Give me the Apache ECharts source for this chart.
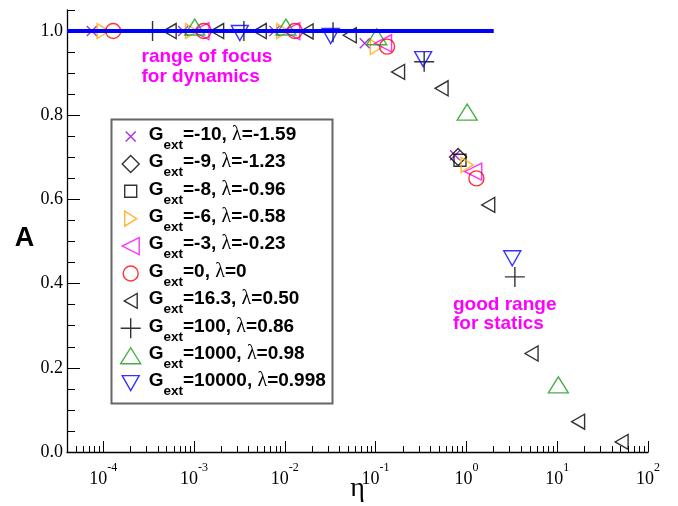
<!DOCTYPE html>
<html>
<head>
<meta charset="utf-8">
<script src="https://cdn.jsdelivr.net/npm/echarts@6/dist/echarts.min.js"></script>
<style>
  html, body { margin: 0; padding: 0; background: #fff; }
  #chart { width: 678px; height: 506px; }
</style>
</head>
<body>
<div id="chart"></div>
<script>
// ---- axis ticks ----
const decadeTicks = [1e-4, 1e-3, 1e-2, 1e-1, 1, 10, 100];
const yMajorTicks = [0, 0.2, 0.4, 0.6, 0.8, 1.0];
const yMinorTicks = [0.05, 0.1, 0.15, 0.25, 0.3, 0.35, 0.45, 0.5, 0.55, 0.65, 0.7, 0.75, 0.85, 0.9, 0.95, 1.05];
const etaMinorTicks = [];
for (let k = -5; k <= 1; k++) {
  for (let m = 2; m <= 9; m++) {
    const v = m * Math.pow(10, k);
    if (v > 4.01e-5 && v < 100) etaMinorTicks.push(v);
  }
}

// ---- data: A versus eta for each G_ext ----
const etaGm10 = [7.5e-5, 7.6e-4, 7.7e-3, 0.076, 0.75];
const aGm10   = [1.0, 1.0, 1.0, 0.971, 0.705];

const etaGm9 = [0.81];
const aGm9   = [0.701];

const etaGm8 = [0.85];
const aGm8   = [0.693];

const etaGm6 = [1.0e-4, 9.4e-4, 9.5e-3, 0.102, 1.02];
const aGm6   = [1.0, 1.0, 1.0, 0.962, 0.682];

const etaGm3 = [1.18e-3, 0.0118, 0.121, 1.19];
const aGm3   = [1.0, 1.0, 0.971, 0.666];

const etaG0 = [1.29e-4, 1.28e-3, 0.0129, 0.134, 1.29];
const aG0   = [1.0, 1.0, 1.0, 0.963, 0.650];

const etaG16 = [5.4e-4, 1.8e-3, 5.3e-3, 0.0174, 0.052, 0.177, 0.533, 1.74, 5.22, 17.0, 51.2];
const aG16   = [1.0, 1.0, 1.0, 0.999, 0.99, 0.903, 0.864, 0.587, 0.234, 0.072, 0.024];

const etaG100 = [3.5e-4, 3.55e-3, 0.034, 0.343, 3.42];
const aG100   = [1.0, 1.0, 0.997, 0.927, 0.416];

const etaG1000 = [1.02e-3, 0.0103, 0.103, 1.02, 10.3];
const aG1000   = [1.0, 1.0, 0.977, 0.798, 0.150];

const etaG10000 = [3.2e-3, 0.032, 0.334, 3.2];
const aG10000   = [1.0, 0.993, 0.938, 0.465];

// reference level A = 1
const lineEta = [4e-5, 2.0];
const lineA   = [1.0, 1.0];

// ---- marker outlines, each drawn inside a 20x20 frame ----
const FRAME = 'M0,0M20,20';
const SHAPES = {
  cross:    'path://' + FRAME + 'M5,5L15,15M15,5L5,15',
  diamond:  'path://' + FRAME + 'M10,1.5L18.5,10L10,18.5L1.5,10Z',
  square:   'path://' + FRAME + 'M4,4L16,4L16,16L4,16Z',
  triRight: 'path://' + FRAME + 'M4,2.5L16,10L4,17.5Z',
  triLeftL: 'path://' + FRAME + 'M18.5,1.5L18.5,18.5L1.5,10Z',
  circle:   'path://' + FRAME + 'M2.5,10A7.5,7.5,0,1,0,17.5,10A7.5,7.5,0,1,0,2.5,10Z',
  triLeft:  'path://' + FRAME + 'M16.5,2.5L16.5,17.5L3.5,10Z',
  plus:     'path://' + FRAME + 'M10,0L10,20M0,10L20,10',
  triUp:    'path://' + FRAME + 'M0,18L10,2L20,18Z',
  triDown:  'path://' + FRAME + 'M1.5,2.5L18.5,2.5L10,17.5Z'
};

const groups = [
  { name: 'Gext=-10, λ=-1.59',   eta: etaGm10,  a: aGm10,  color: '#9400d3', shape: SHAPES.cross },
  { name: 'Gext=-9, λ=-1.23',    eta: etaGm9,   a: aGm9,   color: '#000000', shape: SHAPES.diamond },
  { name: 'Gext=-8, λ=-0.96',    eta: etaGm8,   a: aGm8,   color: '#000000', shape: SHAPES.square },
  { name: 'Gext=-6, λ=-0.58',    eta: etaGm6,   a: aGm6,   color: '#ffa500', shape: SHAPES.triRight },
  { name: 'Gext=-3, λ=-0.23',    eta: etaGm3,   a: aGm3,   color: '#ff00ff', shape: SHAPES.triLeftL },
  { name: 'Gext=0, λ=0',         eta: etaG0,    a: aG0,    color: '#ff0000', shape: SHAPES.circle },
  { name: 'Gext=16.3, λ=0.50',   eta: etaG16,   a: aG16,   color: '#000000', shape: SHAPES.triLeft },
  { name: 'Gext=100, λ=0.86',    eta: etaG100,  a: aG100,  color: '#000000', shape: SHAPES.plus },
  { name: 'Gext=1000, λ=0.98',   eta: etaG1000, a: aG1000, color: '#1a9a1a', shape: SHAPES.triUp,   offset: [0, -4] },
  { name: 'Gext=10000, λ=0.998', eta: etaG10000,a: aG10000,color: '#0000ff', shape: SHAPES.triDown, offset: [0, 2] }
];

const series = groups.map(g => ({
  type: 'scatter',
  name: g.name,
  data: g.eta.map((x, i) => [x, g.a[i]]),
  symbol: g.shape,
  symbolSize: 20,
  symbolOffset: g.offset || [0, 0],
  itemStyle: { color: 'rgba(0,0,0,0)', borderColor: g.color, borderWidth: 1.4 },
  emphasis: { disabled: true },
  z: 3
}));
series.push({
  type: 'line',
  name: 'A=1',
  data: lineEta.map((x, i) => [x, lineA[i]]),
  symbol: 'none',
  lineStyle: { color: '#0000ff', width: 4 },
  z: 5,
  silent: true
});

const SANS = '"Liberation Sans", Arial, sans-serif';
const SERIF = '"Liberation Serif", "Times New Roman", serif';

const option = {
  animation: false,
  backgroundColor: '#fff',
  grid: { left: 67, top: 10, right: 30, bottom: 54, containLabel: false, outerBoundsMode: 'none' },
  xAxis: [{
    type: 'log', logBase: 10, min: 4e-5, max: 100, position: 'bottom',
    axisLine: { onZero: false, lineStyle: { color: '#000', width: 1.3 } },
    axisTick: { inside: true, length: 11, customValues: decadeTicks, lineStyle: { color: '#000', width: 1 } },
    axisLabel: {
      customValues: decadeTicks, margin: 10,
      formatter: v => '{b|10}{s|' + Math.round(Math.log10(v)) + '}',
      rich: {
        b: { fontFamily: SERIF, fontSize: 18, color: '#000', lineHeight: 26, verticalAlign: 'bottom' },
        s: { fontFamily: SERIF, fontSize: 12, color: '#000', lineHeight: 12, verticalAlign: 'top' }
      }
    },
    splitLine: { show: false }
  }, {
    type: 'log', logBase: 10, min: 4e-5, max: 100, position: 'bottom',
    axisLine: { show: false, onZero: false },
    axisTick: { inside: true, length: 6, customValues: etaMinorTicks, lineStyle: { color: '#000', width: 1 } },
    axisLabel: { show: false },
    splitLine: { show: false }
  }],
  yAxis: [{
    type: 'value', min: 0, max: 1.05, position: 'left',
    axisLine: { show: true, onZero: false, lineStyle: { color: '#000', width: 1.3 } },
    axisTick: { show: true, inside: true, length: 13, customValues: yMajorTicks, lineStyle: { color: '#000', width: 1 } },
    axisLabel: {
      customValues: yMajorTicks, margin: 4,
      formatter: v => v.toFixed(1),
      fontFamily: SERIF, fontSize: 18, color: '#000'
    },
    splitLine: { show: false }
  }, {
    type: 'value', min: 0, max: 1.05, position: 'left',
    axisLine: { show: false, onZero: false },
    axisTick: { show: true, inside: true, length: 8, customValues: yMinorTicks, lineStyle: { color: '#000', width: 1 } },
    axisLabel: { show: false },
    splitLine: { show: false }
  }],
  legend: {
    orient: 'vertical', left: 120, top: 121, padding: 0, itemGap: -3.6,
    itemWidth: 20, itemHeight: 20,
    selectedMode: false,
    data: groups.map(g => g.name),
    itemStyle: { borderWidth: 1.4 },
    formatter: n => {
      const rest = n.slice(4);
      const parts = rest.split('λ');
      return '{g|G}{e|ext}{t|' + parts[0] + '}{l|λ}{t|' + parts[1] + '}';
    },
    textStyle: {
      rich: {
        g: { fontFamily: SANS, fontWeight: 'bold', fontSize: 19, color: '#000', lineHeight: 22, padding: [0, 0, 4, 3] },
        e: { fontFamily: SANS, fontWeight: 'bold', fontSize: 13.5, color: '#000', lineHeight: 5, padding: [17, 0, 0, 0] },
        t: { fontFamily: SANS, fontWeight: 'bold', fontSize: 19, color: '#000', lineHeight: 22, padding: [0, 0, 4, 0] },
        l: { fontFamily: SERIF, fontSize: 20, color: '#000', lineHeight: 22, padding: [0, 0, 4, 0] }
      }
    }
  },
  graphic: [
    { type: 'rect', silent: true, z: 1,
      shape: { x: 111.5, y: 119.5, width: 221, height: 284 },
      style: { fill: '#fff', stroke: '#666', lineWidth: 2 } },
    { type: 'text', silent: true, x: 24.5, y: 239,
      style: { text: 'A', fill: '#000', fontFamily: SANS, fontWeight: 'bold', fontSize: 27, align: 'center', verticalAlign: 'middle' } },
    { type: 'text', silent: true, x: 357.5, y: 489,
      style: { text: 'η', fill: '#000', fontFamily: SERIF, fontSize: 28, align: 'center', verticalAlign: 'middle' } },
    { type: 'text', silent: true, x: 141.5, y: 47.2,
      style: { text: 'range of focus\nfor dynamics', fill: '#ff00ff', fontFamily: SANS, fontWeight: 'bold', fontSize: 19, lineHeight: 19.5, align: 'left', verticalAlign: 'top' } },
    { type: 'text', silent: true, x: 453, y: 294.9,
      style: { text: 'good range\nfor statics', fill: '#ff00ff', fontFamily: SANS, fontWeight: 'bold', fontSize: 19, lineHeight: 19, align: 'left', verticalAlign: 'top' } }
  ],
  series: series
};

const chart = echarts.init(document.getElementById('chart'));
chart.setOption(option);
</script>
</body>
</html>
